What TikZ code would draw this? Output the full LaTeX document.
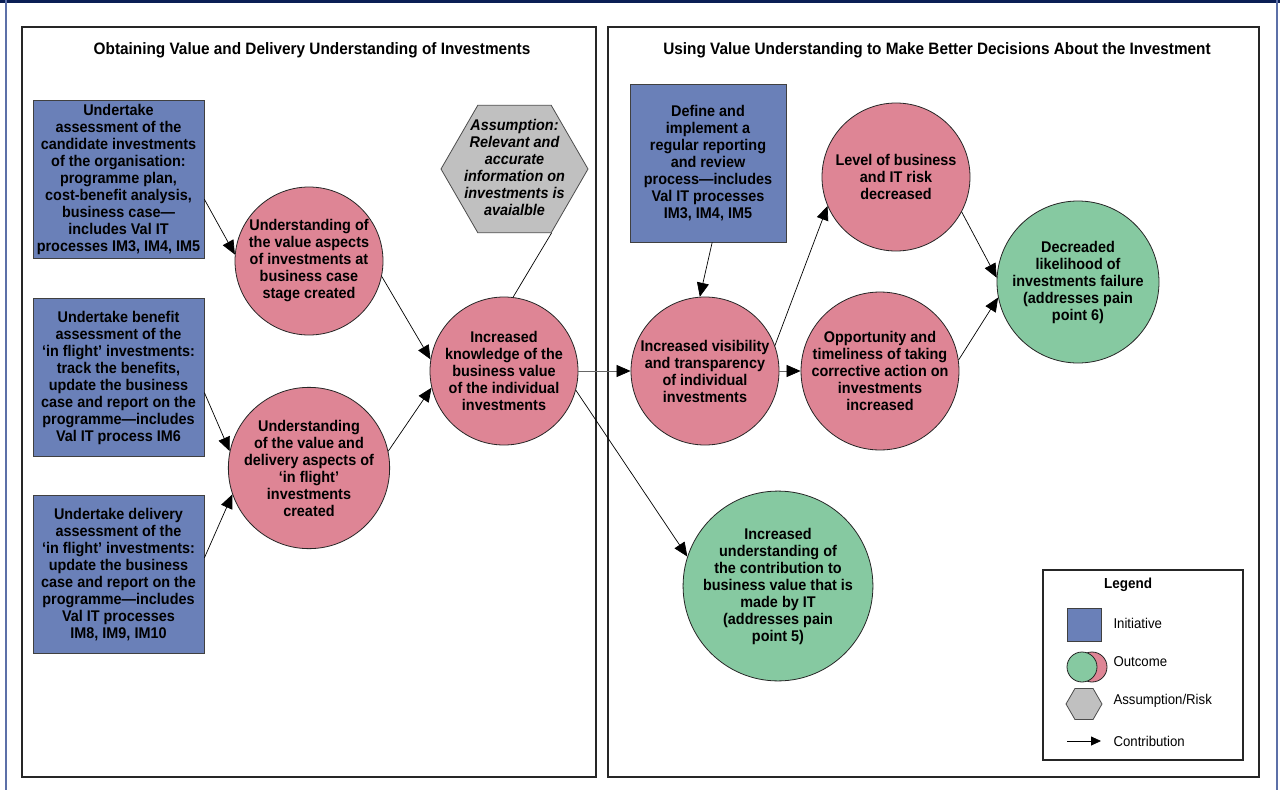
\documentclass[tikz,border=0pt]{standalone}
\usepackage{fontspec}
\setmainfont{Liberation Sans}[FakeStretch=0.93]
\usetikzlibrary{arrows.meta,shapes.geometric}
\definecolor{initblue}{HTML}{6A80B8}
\definecolor{outpink}{HTML}{DE8595}
\definecolor{outgreen}{HTML}{86C9A1}
\definecolor{hexgray}{HTML}{C0C0C0}
\definecolor{navyline}{HTML}{0B1F55}
\definecolor{sideblue}{HTML}{5C70A8}
\begin{document}
\begin{tikzpicture}[x=1pt,y=-1pt,
  every node/.style={font=\fontsize{15.5}{17}\selectfont\bfseries, align=center, text=black},
  initbox/.style={rectangle, draw=black!75, line width=0.8pt, fill=initblue, minimum width=171pt, minimum height=158pt, inner sep=0pt},
  outcome/.style={circle, draw=black!85, line width=0.8pt, fill=outpink, minimum size=148pt, inner sep=0pt},
  goal/.style={outcome, fill=outgreen},
  hexshape/.style={regular polygon, regular polygon sides=6, draw=black!70, line width=0.8pt, fill=hexgray, inner sep=0pt},
  contrib/.style={-{Triangle[length=14pt,width=12pt]}, line width=0.7pt, black},
  graycontrib/.style={-{Triangle[length=14pt,width=12pt,black]}, line width=0.7pt, draw=black!60},
  legarrow/.style={-{Triangle[length=10pt,width=9pt]}, line width=0.8pt, black},
  panel/.style={draw=black!85, line width=1.6pt},
  titletext/.style={font=\fontsize{16.5}{19}\selectfont\bfseries},
  legtext/.style={font=\fontsize{14.2}{17}\selectfont, anchor=west},
]
\useasboundingbox (0,0) rectangle (1280,790);
\fill[white] (0,0) rectangle (1280,790);
% outer frame
\draw[navyline, line width=3.5pt] (0,1) -- (1280,1);
\draw[sideblue, line width=1.5pt] (6,0) -- (6,790);
\draw[sideblue, line width=1.5pt] (1277,0) -- (1277,790);
% panels
\draw[panel] (22,27) rectangle (596,777);
\draw[panel] (608,27) rectangle (1259,777);
\node[titletext] (t1) at (312,50) {Obtaining Value and Delivery Understanding of Investments};
\node[titletext] (t2) at (937,50) {Using Value Understanding to Make Better Decisions About the Investment};
% initiatives
\node[initbox] (box1) at (118.5,179.5) {Undertake\\assessment of the\\candidate investments\\of the organisation:\\programme plan,\\cost-benefit analysis,\\business case—\\includes Val IT\\processes IM3, IM4, IM5};
\node[initbox] (box2) at (118.5,377.5) {Undertake benefit\\assessment of the\\‘in flight’ investments:\\track the benefits,\\update the business\\case and report on the\\programme—includes\\Val IT process IM6};
\node[initbox] (box3) at (118.5,574.5) {Undertake delivery\\assessment of the\\‘in flight’ investments:\\update the business\\case and report on the\\programme—includes\\Val IT processes\\IM8, IM9, IM10};
\node[initbox, minimum width=156pt] (box4) at (708,163) {Define and\\implement a\\regular reporting\\and review\\process—includes\\Val IT processes\\IM3, IM4, IM5};
% outcomes
\node[outcome] (c1) at (309,261) {Understanding of\\the value aspects\\of investments at\\business case\\stage created};
\node[outcome] (c2) at (309,468) {Understanding\\of the value and\\delivery aspects of\\‘in flight’\\investments\\created};
\node[outcome] (c3) at (504,371) {Increased\\knowledge of the\\business value\\of the individual\\investments};
\node[outcome] (c4) at (705,371) {Increased visibility\\and transparency\\of individual\\investments};
\node[outcome] (c5) at (896,177) {Level of business\\and IT risk\\decreased};
\node[outcome] (c6) at (880,371) {Opportunity and\\timeliness of taking\\corrective action on\\investments\\increased};
\node[goal, minimum size=162pt] (c7) at (1078,282) {Decreaded\\likelihood of\\investments failure\\(addresses pain\\point 6)};
\node[goal, minimum size=164pt] (c8) at (778,586) {Increased\\understanding of\\the contribution to\\business value that is\\made by IT\\(addresses pain\\point 5)};
% assumption
\node[hexshape, minimum size=147pt] (hex) at (514.5,169) {};
\node[font=\fontsize{15.5}{17}\selectfont\bfseries\itshape] (hextext) at (514.5,167) {Assumption:\\Relevant and\\accurate\\information on\\investments is\\avaialble};
% connectors
\draw[contrib] (box1.-13) -- (c1.175);
\draw[contrib] (box2.-10) -- (c2.168);
\draw[contrib] (box3.11) -- (c2.199);
\draw[contrib] (c1.-12) -- (c3.171);
\draw[contrib] (c2.12) -- (c3.193);
\draw[line width=0.7pt] (hex.-60) -- (c3.83);
\draw[graycontrib] (c3) -- (c4);
\draw[contrib] (box4.-87) -- (c4.94);
\draw[contrib] (c4.20) -- (c5.203);
\draw[graycontrib] (c4) -- (c6);
\draw[contrib] (c5.-28) -- (c7.177);
\draw[contrib] (c6.8) -- (c7.191);
\draw[contrib] (c3.-15) -- (c8.162);
% legend
\node[draw=black!85, line width=1.2pt, minimum width=200pt, minimum height=190pt, inner sep=0pt] (legend) at (1143,665) {};
\node[font=\fontsize{14.5}{17}\selectfont\bfseries] (legtitle) at (1128,585) {Legend};
\node[initbox, minimum width=34pt, minimum height=33pt] (leginit) at (1084,624.5) {};
\node[legtext] (leginittext) at (1110,623) {Initiative};
\node[outcome, minimum size=30pt] (legpink) at (1092,667) {};
\node[goal, minimum size=30pt] (leggreen) at (1082,667) {};
\node[legtext] (legouttext) at (1110,662) {Outcome};
\node[hexshape, minimum size=36pt] (leghex) at (1084,704) {};
\node[legtext] (leghextext) at (1110,701) {Assumption/Risk};
\coordinate (legA) at (1067,741);
\coordinate (legB) at (1101,741);
\draw[legarrow] (legA) -- (legB);
\node[legtext] (legarrtext) at (1110,741) {Contribution};
\end{tikzpicture}
\end{document}
